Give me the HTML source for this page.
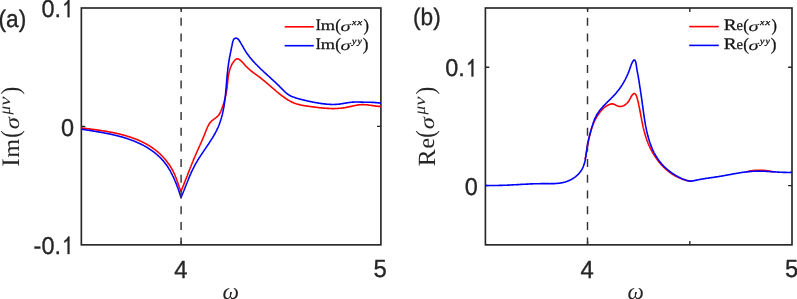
<!DOCTYPE html>
<html lang="en">
<head>
<meta charset="utf-8">
<title>Conductivity spectra</title>
<style>
html,body{margin:0;padding:0;background:#fff;}
body{width:797px;height:299px;overflow:hidden;font-family:"Liberation Sans",sans-serif;}
svg{will-change:transform;transform:translateZ(0);}
svg text{white-space:pre;text-rendering:geometricPrecision;}
</style>
</head>
<body>
<svg width="797" height="299" viewBox="0 0 797 299" style="display:block">
<rect width="797" height="299" fill="#fff"/>
<rect x="81.35" y="8.0" width="299.55" height="236.85" fill="#fff" stroke="#262626" stroke-width="1.65"/>
<path d="M181.20,244.85 v-3.9 M181.20,8.0 v3.9 M81.35,126.42 h3.9 M380.9,126.42 h-3.9" stroke="#262626" stroke-width="1.35" fill="none"/>
<clipPath id="ca"><rect x="81.35" y="8.0" width="299.55" height="236.85"/></clipPath>
<g clip-path="url(#ca)">
<path d="M81.7,128.0 L82.3,128.1 L82.9,128.1 L83.5,128.2 L84.1,128.3 L84.7,128.4 L85.3,128.4 L85.9,128.5 L86.5,128.6 L87.1,128.7 L87.7,128.7 L88.3,128.8 L88.9,128.9 L89.5,128.9 L90.1,129.0 L90.7,129.1 L91.3,129.2 L91.9,129.3 L92.5,129.3 L93.1,129.4 L93.7,129.5 L94.3,129.6 L94.9,129.6 L95.5,129.7 L96.1,129.8 L96.7,129.9 L97.3,130.0 L97.9,130.1 L98.4,130.1 L99.0,130.2 L99.6,130.3 L100.2,130.4 L100.8,130.5 L101.4,130.6 L102.0,130.7 L102.6,130.8 L103.2,130.9 L103.8,131.0 L104.4,131.0 L105.0,131.1 L105.6,131.2 L106.2,131.3 L106.8,131.4 L107.4,131.5 L108.0,131.7 L108.6,131.8 L109.2,131.9 L109.8,132.0 L110.3,132.1 L110.9,132.2 L111.5,132.3 L112.1,132.4 L112.7,132.5 L113.3,132.7 L113.9,132.8 L114.5,132.9 L115.1,133.0 L115.7,133.2 L116.3,133.3 L116.8,133.4 L117.4,133.6 L118.0,133.7 L118.6,133.8 L119.2,134.0 L119.8,134.1 L120.4,134.3 L121.0,134.4 L121.5,134.6 L122.1,134.7 L122.7,134.9 L123.3,135.0 L123.9,135.2 L124.4,135.3 L125.0,135.5 L125.6,135.7 L126.2,135.8 L126.8,136.0 L127.3,136.2 L127.9,136.4 L128.5,136.5 L129.1,136.7 L129.6,136.9 L130.2,137.1 L130.8,137.3 L131.4,137.5 L131.9,137.7 L132.5,137.9 L133.1,138.1 L133.6,138.3 L134.2,138.5 L134.8,138.7 L135.3,138.9 L135.9,139.1 L136.4,139.4 L137.0,139.6 L137.6,139.8 L138.1,140.1 L138.7,140.3 L139.2,140.5 L139.8,140.8 L140.3,141.0 L140.9,141.3 L141.4,141.5 L142.0,141.8 L142.5,142.0 L143.0,142.3 L143.6,142.6 L144.1,142.9 L144.7,143.1 L145.2,143.4 L145.7,143.7 L146.3,144.0 L146.8,144.3 L147.3,144.6 L147.8,144.9 L148.3,145.2 L148.9,145.5 L149.4,145.8 L149.9,146.1 L150.4,146.5 L150.9,146.8 L151.4,147.1 L151.9,147.5 L152.4,147.8 L152.9,148.2 L153.4,148.5 L153.9,148.9 L154.4,149.2 L154.8,149.6 L155.3,149.9 L155.8,150.3 L156.3,150.7 L156.7,151.1 L157.2,151.4 L157.7,151.8 L158.1,152.2 L158.6,152.6 L159.0,153.0 L159.5,153.4 L159.9,153.8 L160.4,154.3 L160.8,154.7 L161.2,155.1 L161.6,155.5 L162.1,156.0 L162.5,156.4 L162.9,156.8 L163.3,157.3 L163.7,157.7 L164.1,158.2 L164.5,158.6 L164.9,159.1 L165.3,159.5 L165.7,160.0 L166.1,160.5 L166.4,160.9 L166.8,161.4 L167.2,161.9 L167.5,162.4 L167.9,162.9 L168.3,163.3 L168.6,163.8 L169.0,164.3 L169.3,164.8 L169.6,165.3 L170.0,165.8 L170.3,166.3 L170.6,166.9 L170.9,167.4 L171.2,167.9 L171.5,168.4 L171.8,168.9 L172.1,169.4 L172.4,170.0 L172.7,170.5 L173.0,171.0 L173.3,171.6 L173.5,172.1 L173.8,172.7 L174.1,173.2 L174.3,173.7 L174.6,174.3 L174.8,174.8 L175.1,175.4 L175.3,176.0 L175.5,176.5 L175.7,177.1 L176.0,177.6 L176.2,178.2 L176.4,178.8 L176.6,179.3 L176.8,179.9 L177.0,180.5 L177.2,181.0 L177.4,181.6 L177.6,182.2 L177.8,182.7 L178.0,183.3 L178.2,183.9 L178.4,184.4 L178.6,185.0 L178.8,185.6 L179.0,186.2 L179.2,186.7 L179.4,187.3 L179.6,187.8 L179.9,188.4 L180.1,189.0 L180.3,189.5 L180.5,190.1 L180.8,190.6 L181.0,191.2 M181.0,191.2 L181.2,190.6 L181.5,190.1 L181.7,189.5 L181.9,189.0 L182.2,188.4 L182.4,187.9 L182.6,187.3 L182.8,186.8 L183.1,186.2 L183.3,185.6 L183.5,185.1 L183.7,184.5 L184.0,184.0 L184.2,183.4 L184.4,182.8 L184.6,182.3 L184.9,181.7 L185.1,181.2 L185.3,180.6 L185.5,180.0 L185.7,179.5 L186.0,178.9 L186.2,178.4 L186.4,177.8 L186.6,177.2 L186.8,176.7 L187.1,176.1 L187.3,175.6 L187.5,175.0 L187.7,174.4 L187.9,173.9 L188.1,173.3 L188.4,172.7 L188.6,172.2 L188.8,171.6 L189.0,171.1 L189.2,170.5 L189.5,169.9 L189.7,169.4 L189.9,168.8 L190.1,168.3 L190.3,167.7 L190.6,167.1 L190.8,166.6 L191.0,166.0 L191.2,165.5 L191.4,164.9 L191.7,164.3 L191.9,163.8 L192.1,163.2 L192.3,162.7 L192.6,162.1 L192.8,161.6 L193.0,161.0 L193.3,160.4 L193.5,159.9 L193.7,159.3 L193.9,158.8 L194.2,158.2 L194.4,157.7 L194.6,157.1 L194.9,156.6 L195.1,156.0 L195.4,155.4 L195.6,154.9 L195.8,154.3 L196.1,153.8 L196.3,153.2 L196.6,152.7 L196.8,152.1 L197.1,151.6 L197.3,151.0 L197.5,150.5 L197.8,149.9 L198.0,149.4 L198.3,148.8 L198.5,148.3 L198.8,147.7 L199.0,147.2 L199.3,146.6 L199.5,146.1 L199.8,145.5 L200.0,145.0 L200.2,144.4 L200.5,143.9 L200.7,143.3 L201.0,142.8 L201.2,142.2 L201.5,141.7 L201.7,141.1 L201.9,140.6 L202.2,140.0 L202.4,139.5 L202.7,138.9 L202.9,138.4 L203.1,137.8 L203.4,137.3 L203.6,136.7 L203.8,136.2 L204.1,135.6 L204.3,135.0 L204.5,134.5 L204.7,133.9 L205.0,133.4 L205.2,132.8 L205.4,132.2 L205.6,131.7 L205.8,131.1 L206.1,130.6 L206.3,130.0 L206.5,129.4 L206.7,128.9 L207.0,128.3 L207.2,127.8 L207.4,127.2 L207.7,126.7 L208.0,126.1 L208.2,125.6 L208.5,125.1 L208.8,124.6 L209.2,124.1 L209.5,123.5 L209.8,123.1 L210.2,122.6 L210.6,122.1 L211.0,121.7 L211.4,121.2 L211.8,120.8 L212.3,120.4 L212.8,120.0 L213.2,119.7 L213.7,119.3 L214.2,118.9 L214.7,118.6 L215.2,118.2 L215.7,117.9 L216.1,117.5 L216.6,117.1 L217.1,116.8 L217.5,116.4 L217.9,115.9 L218.4,115.5 L218.7,115.0 L219.1,114.5 L219.4,114.0 L219.7,113.5 L220.0,113.0 L220.3,112.4 L220.5,111.9 L220.8,111.3 L221.0,110.8 L221.2,110.2 L221.5,109.7 L221.7,109.1 L221.9,108.6 L222.1,108.0 L222.3,107.4 L222.5,106.9 L222.7,106.3 L222.9,105.7 L223.1,105.2 L223.3,104.6 L223.5,104.0 L223.7,103.4 L223.9,102.9 L224.0,102.3 L224.2,101.7 L224.4,101.1 L224.5,100.6 L224.7,100.0 L224.8,99.4 L225.0,98.8 L225.1,98.2 L225.3,97.6 L225.4,97.0 L225.5,96.5 L225.7,95.9 L225.8,95.3 L225.9,94.7 L226.0,94.1 L226.1,93.5 L226.2,92.9 L226.3,92.3 L226.4,91.7 L226.5,91.1 L226.6,90.5 L226.7,89.9 L226.8,89.4 L226.9,88.8 L227.0,88.2 L227.0,87.6 L227.1,87.0 L227.2,86.4 L227.2,85.8 L227.3,85.2 L227.4,84.6 L227.4,84.0 L227.5,83.4 L227.6,82.8 L227.6,82.2 L227.7,81.6 L227.7,81.0 L227.8,80.4 L227.9,79.8 L227.9,79.2 L228.0,78.6 L228.1,78.0 L228.2,77.4 L228.3,76.8 L228.3,76.2 L228.4,75.6 L228.5,75.0 L228.6,74.4 L228.8,73.8 L228.9,73.2 L229.0,72.6 L229.1,72.1 L229.3,71.5 L229.4,70.9 L229.6,70.3 L229.7,69.7 L229.9,69.2 L230.1,68.6 L230.3,68.0 L230.5,67.5 L230.7,66.9 L231.0,66.3 L231.2,65.8 L231.5,65.2 L231.8,64.7 L232.0,64.2 L232.3,63.7 L232.7,63.1 L233.0,62.6 L233.3,62.1 L233.7,61.7 L234.0,61.2 L234.4,60.7 L234.8,60.3 L235.2,59.8 L235.7,59.4 L236.2,59.1 L236.8,58.9 L237.4,58.8 L238.0,58.9 L238.5,59.1 L239.1,59.4 L239.6,59.7 L240.1,60.0 L240.5,60.4 L241.0,60.8 L241.4,61.2 L241.8,61.6 L242.3,62.1 L242.7,62.5 L243.1,63.0 L243.5,63.4 L243.9,63.9 L244.3,64.3 L244.7,64.8 L245.1,65.2 L245.5,65.7 L245.9,66.1 L246.3,66.5 L246.7,67.0 L247.2,67.4 L247.6,67.8 L248.0,68.2 L248.5,68.6 L248.9,69.0 L249.4,69.4 L249.8,69.8 L250.3,70.2 L250.7,70.6 L251.2,71.0 L251.7,71.3 L252.2,71.7 L252.6,72.1 L253.1,72.4 L253.6,72.8 L254.1,73.2 L254.6,73.5 L255.1,73.9 L255.5,74.2 L256.0,74.6 L256.5,74.9 L257.0,75.3 L257.5,75.6 L258.0,76.0 L258.5,76.4 L258.9,76.7 L259.4,77.1 L259.9,77.5 L260.4,77.8 L260.8,78.2 L261.3,78.6 L261.8,78.9 L262.3,79.3 L262.7,79.7 L263.2,80.1 L263.7,80.5 L264.1,80.8 L264.6,81.2 L265.1,81.6 L265.5,82.0 L266.0,82.4 L266.4,82.8 L266.9,83.2 L267.4,83.5 L267.8,83.9 L268.3,84.3 L268.7,84.7 L269.2,85.1 L269.6,85.5 L270.1,85.9 L270.6,86.3 L271.0,86.7 L271.5,87.1 L271.9,87.5 L272.4,87.9 L272.8,88.3 L273.3,88.6 L273.8,89.0 L274.2,89.4 L274.7,89.8 L275.1,90.2 L275.6,90.6 L276.0,91.0 L276.5,91.4 L277.0,91.8 L277.4,92.1 L277.9,92.5 L278.4,92.9 L278.8,93.3 L279.3,93.7 L279.8,94.0 L280.2,94.4 L280.7,94.8 L281.2,95.2 L281.7,95.5 L282.1,95.9 L282.6,96.2 L283.1,96.6 L283.6,97.0 L284.1,97.3 L284.6,97.7 L285.1,98.0 L285.6,98.3 L286.1,98.7 L286.6,99.0 L287.1,99.3 L287.6,99.7 L288.1,100.0 L288.6,100.3 L289.1,100.6 L289.7,100.9 L290.2,101.2 L290.7,101.5 L291.3,101.7 L291.8,102.0 L292.3,102.3 L292.9,102.5 L293.4,102.8 L294.0,103.0 L294.5,103.2 L295.1,103.4 L295.7,103.6 L296.2,103.8 L296.8,104.0 L297.4,104.2 L298.0,104.3 L298.6,104.5 L299.1,104.6 L299.7,104.8 L300.3,104.9 L300.9,105.1 L301.5,105.2 L302.1,105.3 L302.7,105.4 L303.3,105.5 L303.9,105.6 L304.5,105.7 L305.0,105.8 L305.6,105.9 L306.2,106.0 L306.8,106.1 L307.4,106.1 L308.0,106.2 L308.6,106.3 L309.2,106.4 L309.8,106.5 L310.4,106.5 L311.0,106.6 L311.6,106.7 L312.2,106.8 L312.8,106.9 L313.4,106.9 L314.0,107.0 L314.6,107.1 L315.2,107.2 L315.8,107.2 L316.4,107.3 L317.0,107.4 L317.6,107.5 L318.2,107.5 L318.8,107.6 L319.4,107.7 L320.0,107.7 L320.6,107.8 L321.2,107.9 L321.8,107.9 L322.4,108.0 L323.0,108.0 L323.6,108.1 L324.2,108.1 L324.8,108.2 L325.4,108.2 L326.0,108.3 L326.6,108.3 L327.2,108.4 L327.8,108.4 L328.4,108.4 L329.0,108.5 L329.6,108.5 L330.2,108.5 L330.8,108.5 L331.4,108.5 L332.0,108.6 L332.6,108.6 L333.2,108.6 L333.8,108.6 L334.4,108.6 L335.0,108.5 L335.6,108.5 L336.2,108.5 L336.8,108.5 L337.4,108.5 L338.0,108.4 L338.6,108.4 L339.2,108.3 L339.8,108.3 L340.4,108.2 L341.0,108.2 L341.6,108.1 L342.2,108.0 L342.8,108.0 L343.4,107.9 L344.0,107.8 L344.6,107.7 L345.2,107.6 L345.8,107.5 L346.4,107.4 L346.9,107.3 L347.5,107.1 L348.1,107.0 L348.7,106.9 L349.3,106.8 L349.9,106.6 L350.5,106.5 L351.1,106.4 L351.6,106.2 L352.2,106.1 L352.8,106.0 L353.4,105.8 L354.0,105.7 L354.6,105.6 L355.2,105.5 L355.8,105.4 L356.4,105.2 L357.0,105.1 L357.6,105.1 L358.2,105.0 L358.7,104.9 L359.3,104.8 L359.9,104.8 L360.5,104.7 L361.1,104.7 L361.7,104.6 L362.3,104.6 L363.0,104.6 L363.6,104.6 L364.2,104.7 L364.8,104.7 L365.4,104.7 L366.0,104.8 L366.6,104.8 L367.2,104.9 L367.8,104.9 L368.4,105.0 L368.9,105.1 L369.5,105.2 L370.1,105.3 L370.7,105.3 L371.3,105.4 L371.9,105.5 L372.5,105.6 L373.1,105.7 L373.7,105.8 L374.3,105.9 L374.9,105.9 L375.5,106.0 L376.1,106.1 L376.7,106.2 L377.3,106.2 L377.9,106.3 L378.5,106.4 L379.1,106.4 L379.7,106.4 L380.3,106.5 L380.9,106.5" fill="none" stroke="#ff0000" stroke-width="1.6" stroke-linejoin="round" stroke-linecap="round"/>
<path d="M81.7,129.2 L82.3,129.3 L82.9,129.4 L83.5,129.5 L84.1,129.6 L84.7,129.7 L85.3,129.8 L85.9,129.9 L86.5,130.0 L87.1,130.0 L87.7,130.1 L88.3,130.2 L88.9,130.3 L89.5,130.4 L90.0,130.5 L90.6,130.6 L91.2,130.7 L91.8,130.8 L92.4,130.9 L93.0,131.0 L93.6,131.1 L94.2,131.2 L94.8,131.3 L95.4,131.4 L96.0,131.5 L96.6,131.6 L97.2,131.7 L97.8,131.8 L98.4,131.9 L99.0,132.0 L99.6,132.1 L100.2,132.2 L100.8,132.3 L101.4,132.4 L102.0,132.5 L102.5,132.6 L103.1,132.7 L103.7,132.8 L104.3,132.9 L104.9,133.1 L105.5,133.2 L106.1,133.3 L106.7,133.4 L107.3,133.5 L107.9,133.6 L108.5,133.8 L109.1,133.9 L109.7,134.0 L110.2,134.1 L110.8,134.3 L111.4,134.4 L112.0,134.5 L112.6,134.6 L113.2,134.8 L113.8,134.9 L114.4,135.1 L115.0,135.2 L115.5,135.3 L116.1,135.5 L116.7,135.6 L117.3,135.8 L117.9,135.9 L118.5,136.1 L119.1,136.2 L119.6,136.4 L120.2,136.5 L120.8,136.7 L121.4,136.8 L122.0,137.0 L122.6,137.2 L123.1,137.3 L123.7,137.5 L124.3,137.7 L124.9,137.9 L125.4,138.0 L126.0,138.2 L126.6,138.4 L127.2,138.6 L127.7,138.8 L128.3,139.0 L128.9,139.2 L129.5,139.4 L130.0,139.6 L130.6,139.8 L131.2,140.0 L131.7,140.2 L132.3,140.4 L132.9,140.6 L133.4,140.8 L134.0,141.1 L134.5,141.3 L135.1,141.5 L135.7,141.7 L136.2,142.0 L136.8,142.2 L137.3,142.5 L137.9,142.7 L138.4,142.9 L139.0,143.2 L139.5,143.5 L140.1,143.7 L140.6,144.0 L141.2,144.2 L141.7,144.5 L142.2,144.8 L142.8,145.1 L143.3,145.3 L143.8,145.6 L144.4,145.9 L144.9,146.2 L145.4,146.5 L145.9,146.8 L146.5,147.1 L147.0,147.4 L147.5,147.7 L148.0,148.0 L148.5,148.4 L149.0,148.7 L149.5,149.0 L150.0,149.4 L150.5,149.7 L151.0,150.0 L151.5,150.4 L152.0,150.7 L152.5,151.1 L153.0,151.4 L153.5,151.8 L154.0,152.2 L154.4,152.5 L154.9,152.9 L155.4,153.3 L155.9,153.7 L156.3,154.1 L156.8,154.4 L157.2,154.8 L157.7,155.2 L158.1,155.6 L158.6,156.1 L159.0,156.5 L159.5,156.9 L159.9,157.3 L160.3,157.7 L160.7,158.2 L161.2,158.6 L161.6,159.0 L162.0,159.5 L162.4,159.9 L162.8,160.4 L163.2,160.8 L163.6,161.3 L164.0,161.8 L164.3,162.2 L164.7,162.7 L165.1,163.2 L165.4,163.7 L165.8,164.1 L166.2,164.6 L166.5,165.1 L166.9,165.6 L167.2,166.1 L167.5,166.6 L167.9,167.1 L168.2,167.6 L168.5,168.1 L168.8,168.6 L169.2,169.2 L169.5,169.7 L169.8,170.2 L170.1,170.7 L170.4,171.2 L170.7,171.8 L171.0,172.3 L171.2,172.8 L171.5,173.4 L171.8,173.9 L172.1,174.4 L172.4,175.0 L172.6,175.5 L172.9,176.1 L173.2,176.6 L173.4,177.2 L173.7,177.7 L173.9,178.3 L174.2,178.8 L174.4,179.4 L174.7,179.9 L174.9,180.5 L175.1,181.0 L175.4,181.6 L175.6,182.1 L175.8,182.7 L176.0,183.2 L176.3,183.8 L176.5,184.4 L176.7,184.9 L176.9,185.5 L177.1,186.1 L177.3,186.6 L177.6,187.2 L177.8,187.8 L178.0,188.3 L178.2,188.9 L178.4,189.5 L178.6,190.0 L178.8,190.6 L179.0,191.2 L179.1,191.8 L179.3,192.3 L179.5,192.9 L179.7,193.5 L179.9,194.0 L180.1,194.6 L180.3,195.2 L180.5,195.8 L180.6,196.3 L180.8,196.9 L181.0,197.5 M181.0,197.5 L181.2,196.9 L181.5,196.4 L181.7,195.8 L181.9,195.3 L182.2,194.7 L182.4,194.2 L182.6,193.6 L182.9,193.1 L183.1,192.5 L183.3,192.0 L183.5,191.4 L183.8,190.8 L184.0,190.3 L184.2,189.7 L184.4,189.2 L184.7,188.6 L184.9,188.0 L185.1,187.5 L185.3,186.9 L185.5,186.4 L185.8,185.8 L186.0,185.2 L186.2,184.7 L186.4,184.1 L186.6,183.6 L186.9,183.0 L187.1,182.5 L187.3,181.9 L187.5,181.3 L187.8,180.8 L188.0,180.2 L188.2,179.7 L188.4,179.1 L188.7,178.6 L188.9,178.0 L189.1,177.4 L189.4,176.9 L189.6,176.3 L189.8,175.8 L190.1,175.2 L190.3,174.7 L190.6,174.1 L190.8,173.6 L191.0,173.0 L191.3,172.5 L191.5,171.9 L191.8,171.4 L192.0,170.8 L192.3,170.3 L192.6,169.8 L192.8,169.2 L193.1,168.7 L193.4,168.1 L193.6,167.6 L193.9,167.1 L194.2,166.5 L194.5,166.0 L194.7,165.5 L195.0,164.9 L195.3,164.4 L195.6,163.9 L195.9,163.4 L196.2,162.8 L196.5,162.3 L196.8,161.8 L197.1,161.3 L197.4,160.8 L197.7,160.2 L198.0,159.7 L198.4,159.2 L198.7,158.7 L199.0,158.2 L199.3,157.7 L199.6,157.2 L200.0,156.7 L200.3,156.2 L200.6,155.7 L200.9,155.2 L201.3,154.7 L201.6,154.2 L201.9,153.7 L202.3,153.2 L202.6,152.7 L203.0,152.2 L203.3,151.7 L203.6,151.2 L204.0,150.7 L204.3,150.2 L204.6,149.7 L205.0,149.2 L205.3,148.7 L205.7,148.2 L206.0,147.7 L206.3,147.2 L206.7,146.7 L207.0,146.2 L207.3,145.7 L207.7,145.2 L208.0,144.7 L208.4,144.2 L208.7,143.7 L209.0,143.2 L209.4,142.7 L209.7,142.2 L210.0,141.7 L210.3,141.2 L210.7,140.7 L211.0,140.2 L211.3,139.7 L211.6,139.2 L211.9,138.7 L212.3,138.1 L212.6,137.6 L212.9,137.1 L213.2,136.6 L213.5,136.1 L213.8,135.6 L214.1,135.0 L214.4,134.5 L214.7,134.0 L215.0,133.5 L215.3,132.9 L215.6,132.4 L215.8,131.9 L216.1,131.4 L216.4,130.8 L216.7,130.3 L216.9,129.7 L217.2,129.2 L217.4,128.7 L217.7,128.1 L217.9,127.6 L218.2,127.0 L218.4,126.5 L218.6,125.9 L218.9,125.3 L219.1,124.8 L219.3,124.2 L219.5,123.7 L219.7,123.1 L219.9,122.5 L220.1,122.0 L220.3,121.4 L220.5,120.8 L220.7,120.2 L220.9,119.7 L221.0,119.1 L221.2,118.5 L221.4,117.9 L221.5,117.4 L221.7,116.8 L221.9,116.2 L222.0,115.6 L222.2,115.0 L222.3,114.5 L222.4,113.9 L222.6,113.3 L222.7,112.7 L222.8,112.1 L223.0,111.5 L223.1,110.9 L223.2,110.3 L223.3,109.8 L223.4,109.2 L223.5,108.6 L223.7,108.0 L223.8,107.4 L223.9,106.8 L224.0,106.2 L224.1,105.6 L224.2,105.0 L224.2,104.4 L224.3,103.8 L224.4,103.2 L224.5,102.6 L224.6,102.0 L224.7,101.4 L224.7,100.8 L224.8,100.3 L224.9,99.7 L225.0,99.1 L225.0,98.5 L225.1,97.9 L225.2,97.3 L225.2,96.7 L225.3,96.1 L225.4,95.5 L225.4,94.9 L225.5,94.3 L225.6,93.7 L225.6,93.1 L225.7,92.5 L225.7,91.9 L225.8,91.3 L225.8,90.7 L225.9,90.1 L226.0,89.5 L226.0,88.9 L226.1,88.3 L226.1,87.7 L226.2,87.1 L226.2,86.5 L226.3,85.9 L226.3,85.3 L226.4,84.7 L226.4,84.1 L226.5,83.5 L226.5,82.9 L226.6,82.3 L226.6,81.7 L226.7,81.1 L226.7,80.5 L226.8,79.9 L226.8,79.3 L226.9,78.7 L226.9,78.1 L227.0,77.5 L227.0,76.9 L227.1,76.3 L227.1,75.7 L227.2,75.1 L227.2,74.5 L227.3,73.9 L227.4,73.3 L227.4,72.7 L227.5,72.1 L227.6,71.5 L227.6,70.9 L227.7,70.3 L227.8,69.7 L227.8,69.1 L227.9,68.5 L228.0,67.9 L228.0,67.3 L228.1,66.7 L228.2,66.1 L228.3,65.6 L228.4,65.0 L228.5,64.4 L228.5,63.8 L228.6,63.2 L228.7,62.6 L228.8,62.0 L228.9,61.4 L229.0,60.8 L229.1,60.2 L229.2,59.6 L229.3,59.0 L229.4,58.4 L229.5,57.8 L229.6,57.2 L229.7,56.7 L229.9,56.1 L230.0,55.5 L230.1,54.9 L230.2,54.3 L230.3,53.7 L230.4,53.1 L230.5,52.5 L230.7,51.9 L230.8,51.3 L230.9,50.8 L231.0,50.2 L231.1,49.6 L231.2,49.0 L231.4,48.4 L231.5,47.8 L231.6,47.2 L231.7,46.6 L231.9,46.0 L232.0,45.5 L232.1,44.9 L232.2,44.3 L232.3,43.7 L232.5,43.1 L232.6,42.5 L232.7,41.9 L232.9,41.3 L233.1,40.8 L233.3,40.2 L233.6,39.7 L233.9,39.2 L234.3,38.7 L234.8,38.4 L235.4,38.2 L235.9,38.1 L236.5,38.2 L237.1,38.4 L237.6,38.7 L238.1,39.1 L238.5,39.5 L238.9,40.0 L239.2,40.5 L239.5,41.0 L239.9,41.5 L240.2,42.0 L240.5,42.5 L240.8,43.1 L241.1,43.6 L241.4,44.1 L241.7,44.6 L242.0,45.2 L242.3,45.7 L242.6,46.2 L242.9,46.7 L243.2,47.2 L243.5,47.8 L243.8,48.3 L244.1,48.8 L244.4,49.3 L244.7,49.8 L245.0,50.3 L245.3,50.9 L245.6,51.4 L246.0,51.9 L246.3,52.4 L246.6,52.9 L247.0,53.4 L247.3,53.9 L247.7,54.3 L248.0,54.8 L248.4,55.3 L248.7,55.8 L249.1,56.3 L249.5,56.8 L249.8,57.2 L250.2,57.7 L250.6,58.2 L251.0,58.6 L251.4,59.1 L251.8,59.5 L252.1,60.0 L252.5,60.4 L252.9,60.9 L253.3,61.3 L253.7,61.8 L254.2,62.2 L254.6,62.7 L255.0,63.1 L255.4,63.5 L255.8,64.0 L256.2,64.4 L256.6,64.8 L257.1,65.3 L257.5,65.7 L257.9,66.1 L258.3,66.6 L258.8,67.0 L259.2,67.4 L259.6,67.8 L260.1,68.2 L260.5,68.7 L260.9,69.1 L261.4,69.5 L261.8,69.9 L262.2,70.3 L262.7,70.7 L263.1,71.1 L263.5,71.5 L264.0,72.0 L264.4,72.4 L264.9,72.8 L265.3,73.2 L265.8,73.6 L266.2,74.0 L266.6,74.4 L267.1,74.8 L267.5,75.2 L268.0,75.6 L268.4,76.0 L268.9,76.4 L269.3,76.8 L269.7,77.2 L270.2,77.6 L270.6,78.0 L271.1,78.5 L271.5,78.9 L272.0,79.3 L272.4,79.7 L272.9,80.1 L273.3,80.5 L273.7,80.9 L274.2,81.3 L274.6,81.7 L275.1,82.1 L275.5,82.5 L275.9,82.9 L276.4,83.4 L276.8,83.8 L277.2,84.2 L277.7,84.6 L278.1,85.0 L278.5,85.4 L279.0,85.9 L279.4,86.3 L279.8,86.7 L280.2,87.1 L280.7,87.6 L281.1,88.0 L281.5,88.4 L281.9,88.9 L282.4,89.3 L282.8,89.7 L283.2,90.1 L283.6,90.6 L284.1,91.0 L284.5,91.4 L284.9,91.8 L285.4,92.2 L285.8,92.6 L286.3,93.0 L286.7,93.4 L287.2,93.8 L287.7,94.1 L288.2,94.5 L288.7,94.8 L289.2,95.1 L289.7,95.5 L290.2,95.7 L290.8,96.0 L291.3,96.3 L291.8,96.5 L292.4,96.7 L293.0,96.9 L293.5,97.1 L294.1,97.3 L294.7,97.5 L295.3,97.7 L295.8,97.9 L296.4,98.1 L297.0,98.2 L297.6,98.4 L298.1,98.6 L298.7,98.7 L299.3,98.9 L299.9,99.1 L300.4,99.2 L301.0,99.4 L301.6,99.5 L302.2,99.7 L302.8,99.8 L303.4,100.0 L303.9,100.1 L304.5,100.3 L305.1,100.4 L305.7,100.5 L306.3,100.7 L306.9,100.8 L307.5,101.0 L308.0,101.1 L308.6,101.2 L309.2,101.3 L309.8,101.5 L310.4,101.6 L311.0,101.7 L311.6,101.8 L312.2,101.9 L312.7,102.1 L313.3,102.2 L313.9,102.3 L314.5,102.4 L315.1,102.5 L315.7,102.6 L316.3,102.7 L316.9,102.8 L317.5,102.9 L318.1,103.0 L318.7,103.1 L319.3,103.2 L319.9,103.3 L320.5,103.4 L321.0,103.5 L321.6,103.6 L322.2,103.6 L322.8,103.7 L323.4,103.8 L324.0,103.9 L324.6,103.9 L325.2,104.0 L325.8,104.1 L326.4,104.1 L327.0,104.2 L327.6,104.3 L328.2,104.3 L328.8,104.3 L329.4,104.4 L330.0,104.4 L330.6,104.4 L331.2,104.5 L331.8,104.5 L332.4,104.5 L333.0,104.5 L333.6,104.5 L334.2,104.5 L334.8,104.5 L335.4,104.4 L336.0,104.4 L336.6,104.4 L337.2,104.3 L337.8,104.3 L338.4,104.2 L339.0,104.1 L339.6,104.1 L340.2,104.0 L340.8,103.9 L341.4,103.8 L342.0,103.7 L342.6,103.6 L343.2,103.5 L343.8,103.4 L344.4,103.3 L345.0,103.2 L345.5,103.1 L346.1,103.0 L346.7,102.9 L347.3,102.8 L347.9,102.7 L348.5,102.6 L349.1,102.5 L349.7,102.5 L350.3,102.4 L350.9,102.3 L351.5,102.2 L352.1,102.2 L352.7,102.1 L353.3,102.1 L353.9,102.1 L354.5,102.0 L355.1,102.0 L355.7,102.0 L356.3,102.0 L356.9,102.0 L357.5,102.0 L358.1,102.0 L358.7,102.0 L359.3,102.0 L359.9,102.1 L360.5,102.1 L361.1,102.1 L361.7,102.1 L362.3,102.1 L362.9,102.1 L363.5,102.2 L364.1,102.2 L364.7,102.2 L365.3,102.2 L365.9,102.2 L366.5,102.2 L367.1,102.2 L367.7,102.2 L368.3,102.2 L368.9,102.3 L369.5,102.3 L370.1,102.3 L370.7,102.3 L371.3,102.3 L371.9,102.4 L372.5,102.4 L373.1,102.4 L373.7,102.4 L374.3,102.5 L374.9,102.5 L375.5,102.6 L376.1,102.6 L376.7,102.7 L377.3,102.7 L377.9,102.8 L378.5,102.9 L379.1,102.9 L379.7,103.0 L380.3,103.1 L380.9,103.2" fill="none" stroke="#0000ff" stroke-width="1.6" stroke-linejoin="round" stroke-linecap="round"/>
<line x1="181.1" y1="8.0" x2="181.1" y2="244.85" stroke="#333333" stroke-width="1.45" stroke-dasharray="8.0 7.7" stroke-dashoffset="5.90"/>
</g>
<g transform="translate(74.00,17.20) scale(0.962,1)" fill="#262626" stroke="#262626" stroke-width="0.34" stroke-linejoin="round"><text x="-33.92" y="0" font-family="Liberation Sans, sans-serif" font-size="24.4">0.</text><polygon points="-4.73,0.00 -6.64,0.00 -6.64,-13.66 -8.32,-12.27 -10.03,-11.42 -10.03,-13.30 -7.83,-14.88 -5.95,-17.47 -4.73,-17.47"/></g>
<g transform="translate(74.00,135.62) scale(0.962,1)" fill="#262626" stroke="#262626" stroke-width="0.34" stroke-linejoin="round"><text x="-13.57" y="0" font-family="Liberation Sans, sans-serif" font-size="24.4">0</text></g>
<g transform="translate(74.00,254.05) scale(0.962,1)" fill="#262626" stroke="#262626" stroke-width="0.34" stroke-linejoin="round"><text x="-42.04" y="0" font-family="Liberation Sans, sans-serif" font-size="24.4">-0.</text><polygon points="-4.73,0.00 -6.64,0.00 -6.64,-13.66 -8.32,-12.27 -10.03,-11.42 -10.03,-13.30 -7.83,-14.88 -5.95,-17.47 -4.73,-17.47"/></g>
<g transform="translate(180.80,277.50) scale(0.962,1)" fill="#262626" stroke="#262626" stroke-width="0.34" stroke-linejoin="round"><text x="-6.89" y="0" font-family="Liberation Sans, sans-serif" font-size="24.8">4</text></g>
<g transform="translate(380.20,277.40) scale(0.962,1)" fill="#262626" stroke="#262626" stroke-width="0.34" stroke-linejoin="round"><text x="-6.89" y="0" font-family="Liberation Sans, sans-serif" font-size="24.8">5</text></g>
<g transform="translate(-1.50,26.80) scale(0.94,1)" fill="#262626" stroke="#262626" stroke-width="0.34" stroke-linejoin="round"><text x="0.00" y="0" font-family="Liberation Sans, sans-serif" font-size="24.1">(a)</text></g>
<text transform="matrix(0.9722 0 0 0.9722 222.542 299.067)" font-family="Liberation Serif, serif" font-size="24" font-style="italic" fill="#262626">ω</text>
<g transform="rotate(-90)">
<text transform="matrix(1.0476 0 0 1.0496 -166.780 19.200)" font-family="Liberation Serif, serif" font-size="24" fill="#262626">I</text>
<text transform="matrix(1.0101 0 0 0.9663 -157.785 19.200)" font-family="Liberation Serif, serif" font-size="24" fill="#262626">m</text>
<text transform="matrix(0.9314 0 0 1.0973 -137.706 19.304)" font-family="Liberation Serif, serif" font-size="24" fill="#262626">(</text>
<text transform="matrix(1.0185 0 0 0.8768 -129.333 19.090)" font-family="Liberation Serif, serif" font-size="24" font-style="italic" fill="#262626">σ</text>
<text transform="matrix(0.9940 0 0 0.9586 -114.500 9.996)" font-family="Liberation Serif, serif" font-size="17" font-style="italic" fill="#262626">μ</text>
<text transform="matrix(1.2175 0 0 0.9387 -105.710 10.040)" font-family="Liberation Serif, serif" font-size="17" font-style="italic" fill="#262626">ν</text>
<text transform="matrix(0.9709 0 0 1.0973 -94.557 19.304)" font-family="Liberation Serif, serif" font-size="24" fill="#262626">)</text>
</g>
<path d="M284.7,26.8 H313.8" stroke="#ff0000" stroke-width="1.6"/>
<path d="M284.7,45.7 H313.8" stroke="#0000ff" stroke-width="1.6"/>
<text transform="matrix(0.9768 0 0 1.0276 315.867 30.400)" font-family="Liberation Serif, serif" font-size="15.6" fill="#141414" stroke="#141414" stroke-width="0.28">I</text>
<text transform="matrix(1.1741 0 0 0.9274 320.634 30.400)" font-family="Liberation Serif, serif" font-size="15.6" fill="#141414" stroke="#141414" stroke-width="0.28">m</text>
<text transform="matrix(1.0809 0 0 1.1161 335.141 30.800)" font-family="Liberation Serif, serif" font-size="15.6" fill="#141414" stroke="#141414" stroke-width="0.28">(</text>
<text transform="matrix(1.3209 0 0 0.9114 340.382 30.558)" font-family="Liberation Serif, serif" font-size="15.6" font-style="italic" fill="#141414" stroke="#141414" stroke-width="0.1">σ</text>
<text transform="matrix(0.9091 0 0 0.7708 352.025 24.500)" font-family="Liberation Serif, serif" font-size="11" font-style="italic" fill="#141414" stroke="#141414" stroke-width="0.35">x</text>
<text transform="matrix(1.0303 0 0 0.7708 357.142 24.500)" font-family="Liberation Serif, serif" font-size="11" font-style="italic" fill="#141414" stroke="#141414" stroke-width="0.35">x</text>
<text transform="matrix(1.0456 0 0 1.1161 363.570 30.800)" font-family="Liberation Serif, serif" font-size="15.6" fill="#141414" stroke="#141414" stroke-width="0.28">)</text>
<text transform="matrix(0.9768 0 0 1.0276 315.867 49.400)" font-family="Liberation Serif, serif" font-size="15.6" fill="#141414" stroke="#141414" stroke-width="0.28">I</text>
<text transform="matrix(1.1741 0 0 0.9274 320.634 49.400)" font-family="Liberation Serif, serif" font-size="15.6" fill="#141414" stroke="#141414" stroke-width="0.28">m</text>
<text transform="matrix(1.0809 0 0 1.1161 335.141 49.800)" font-family="Liberation Serif, serif" font-size="15.6" fill="#141414" stroke="#141414" stroke-width="0.28">(</text>
<text transform="matrix(1.3209 0 0 0.9114 340.382 49.558)" font-family="Liberation Serif, serif" font-size="15.6" font-style="italic" fill="#141414" stroke="#141414" stroke-width="0.1">σ</text>
<text transform="matrix(0.8962 0 0 0.8215 352.013 43.757)" font-family="Liberation Serif, serif" font-size="11" font-style="italic" fill="#141414" stroke="#141414" stroke-width="0.35">y</text>
<text transform="matrix(0.8962 0 0 0.8215 357.413 43.757)" font-family="Liberation Serif, serif" font-size="11" font-style="italic" fill="#141414" stroke="#141414" stroke-width="0.35">y</text>
<text transform="matrix(1.0953 0 0 1.1161 362.645 49.800)" font-family="Liberation Serif, serif" font-size="15.6" fill="#141414" stroke="#141414" stroke-width="0.28">)</text>
<rect x="485.4" y="8.0" width="306.60" height="236.85" fill="#fff" stroke="#262626" stroke-width="1.65"/>
<path d="M587.60,244.85 v-3.9 M587.60,8.0 v3.9 M689.80,244.85 v-3.9 M689.80,8.0 v3.9 M485.4,185.64 h3.9 M792.0,185.64 h-3.9 M485.4,67.21 h3.9 M792.0,67.21 h-3.9" stroke="#262626" stroke-width="1.35" fill="none"/>
<clipPath id="cb"><rect x="485.4" y="8.0" width="306.60" height="236.85"/></clipPath>
<g clip-path="url(#cb)">
<path d="M585.2,158.6 L585.3,158.0 L585.4,157.4 L585.6,156.8 L585.7,156.2 L585.8,155.6 L585.9,155.0 L586.0,154.5 L586.1,153.9 L586.2,153.3 L586.3,152.7 L586.4,152.1 L586.5,151.5 L586.6,150.9 L586.8,150.3 L586.9,149.7 L587.0,149.1 L587.1,148.5 L587.2,147.9 L587.3,147.3 L587.4,146.7 L587.5,146.1 L587.6,145.5 L587.7,145.0 L587.8,144.4 L587.9,143.8 L588.0,143.2 L588.2,142.6 L588.3,142.0 L588.4,141.4 L588.5,140.8 L588.6,140.2 L588.8,139.6 L588.9,139.0 L589.0,138.4 L589.1,137.9 L589.3,137.3 L589.4,136.7 L589.5,136.1 L589.7,135.5 L589.8,134.9 L590.0,134.3 L590.1,133.7 L590.3,133.2 L590.4,132.6 L590.6,132.0 L590.7,131.4 L590.9,130.8 L591.1,130.3 L591.2,129.7 L591.4,129.1 L591.6,128.5 L591.8,128.0 L592.0,127.4 L592.2,126.8 L592.4,126.2 L592.6,125.7 L592.8,125.1 L593.0,124.5 L593.2,124.0 L593.5,123.4 L593.7,122.9 L593.9,122.3 L594.2,121.8 L594.4,121.2 L594.7,120.7 L595.0,120.1 L595.2,119.6 L595.5,119.1 L595.8,118.5 L596.1,118.0 L596.4,117.5 L596.7,116.9 L597.0,116.4 L597.3,115.9 L597.6,115.4 L598.0,114.9 L598.3,114.4 L598.6,113.9 L599.0,113.4 L599.4,112.9 L599.7,112.5 L600.1,112.0 L600.5,111.5 L600.9,111.0 L601.3,110.6 L601.7,110.1 L602.1,109.7 L602.5,109.3 L602.9,108.8 L603.4,108.4 L603.8,108.0 L604.3,107.6 L604.7,107.2 L605.2,106.9 L605.7,106.5 L606.2,106.2 L606.7,105.9 L607.2,105.5 L607.7,105.2 L608.3,105.0 L608.8,104.7 L609.4,104.5 L609.9,104.3 L610.5,104.1 L611.1,104.0 L611.7,103.9 L612.3,103.9 L612.9,104.0 L613.5,104.1 L614.1,104.3 L614.6,104.6 L615.2,104.8 L615.7,105.1 L616.3,105.4 L616.8,105.6 L617.4,105.9 L617.9,106.1 L618.5,106.3 L619.1,106.4 L619.7,106.5 L620.3,106.5 L620.9,106.5 L621.5,106.4 L622.1,106.3 L622.7,106.1 L623.2,105.9 L623.8,105.6 L624.3,105.3 L624.8,105.0 L625.3,104.7 L625.8,104.3 L626.2,103.9 L626.7,103.5 L627.1,103.1 L627.5,102.7 L627.9,102.2 L628.3,101.7 L628.6,101.2 L629.0,100.7 L629.3,100.2 L629.6,99.7 L629.8,99.1 L630.1,98.6 L630.4,98.1 L630.7,97.5 L631.0,97.0 L631.3,96.5 L631.6,96.0 L631.9,95.5 L632.3,95.0 L632.7,94.5 L633.1,94.1 L633.6,93.7 L634.1,93.5 L634.7,93.5 L635.2,93.9 L635.6,94.3 L635.9,94.8 L636.2,95.4 L636.4,95.9 L636.7,96.5 L636.9,97.1 L637.1,97.6 L637.2,98.2 L637.4,98.8 L637.5,99.4 L637.7,100.0 L637.8,100.5 L638.0,101.1 L638.1,101.7 L638.2,102.3 L638.4,102.9 L638.5,103.5 L638.6,104.1 L638.7,104.7 L638.9,105.3 L639.0,105.9 L639.1,106.4 L639.2,107.0 L639.3,107.6 L639.5,108.2 L639.6,108.8 L639.7,109.4 L639.8,110.0 L639.9,110.6 L640.0,111.2 L640.1,111.8 L640.3,112.4 L640.4,113.0 L640.5,113.6 L640.6,114.1 L640.7,114.7 L640.8,115.3 L640.9,115.9 L641.0,116.5 L641.2,117.1 L641.3,117.7 L641.4,118.3 L641.5,118.9 L641.6,119.5 L641.7,120.1 L641.8,120.7 L642.0,121.3 L642.1,121.8 L642.2,122.4 L642.3,123.0 L642.4,123.6 L642.6,124.2 L642.7,124.8 L642.8,125.4 L642.9,126.0 L643.1,126.6 L643.2,127.2 L643.3,127.7 L643.5,128.3 L643.6,128.9 L643.8,129.5 L643.9,130.1 L644.0,130.7 L644.2,131.3 L644.4,131.8 L644.5,132.4 L644.7,133.0 L644.8,133.6 L645.0,134.2 L645.2,134.8 L645.3,135.3 L645.5,135.9 L645.7,136.5 L645.9,137.1 L646.1,137.6 L646.2,138.2 L646.4,138.8 L646.6,139.3 L646.8,139.9 L647.0,140.5 L647.2,141.1 L647.5,141.6 L647.7,142.2 L647.9,142.7 L648.1,143.3 L648.4,143.9 L648.6,144.4 L648.8,145.0 L649.1,145.5 L649.3,146.1 L649.6,146.6 L649.8,147.2 L650.1,147.7 L650.3,148.3 L650.6,148.8 L650.9,149.3 L651.2,149.9 L651.4,150.4 L651.7,150.9 L652.0,151.5 L652.3,152.0 L652.6,152.5 L652.9,153.0 L653.2,153.6 L653.5,154.1 L653.8,154.6 L654.1,155.1 L654.5,155.6 L654.8,156.1 L655.1,156.6 L655.5,157.1 L655.8,157.6 L656.1,158.1 L656.5,158.6 L656.8,159.1 L657.2,159.6 L657.5,160.1 L657.9,160.6 L658.3,161.1 L658.6,161.5 L659.0,162.0 L659.4,162.5 L659.8,162.9 L660.2,163.4 L660.6,163.8 L661.0,164.3 L661.4,164.8 L661.8,165.2 L662.2,165.6 L662.6,166.1 L663.0,166.5 L663.5,166.9 L663.9,167.4 L664.3,167.8 L664.8,168.2 L665.2,168.6 L665.6,169.0 L666.1,169.4 L666.5,169.8 L667.0,170.2 L667.5,170.6 L667.9,171.0 L668.4,171.3 L668.9,171.7 L669.4,172.1 L669.9,172.4 L670.3,172.8 L670.8,173.1 L671.3,173.5 L671.8,173.8 L672.3,174.2 L672.8,174.5 L673.4,174.8 L673.9,175.1 L674.4,175.4 L674.9,175.7 L675.4,176.0 L676.0,176.3 L676.5,176.6 L677.0,176.8 L677.6,177.1 L678.1,177.4 L678.7,177.6 L679.2,177.9 L679.8,178.1 L680.3,178.3 L680.9,178.6 L681.5,178.8 L682.0,179.0 L682.6,179.2 L683.2,179.4 L683.8,179.6 L684.3,179.7 L684.9,179.9 L685.5,180.1 L686.1,180.2 L686.7,180.4 L687.2,180.5 L687.8,180.6 L688.4,180.8 L689.0,180.9 L689.6,181.0 L690.2,181.1 M746.5,171.8 L747.1,171.7 L747.7,171.5 L748.3,171.4 L748.9,171.3 L749.5,171.1 L750.1,171.0 L750.7,170.9 L751.4,170.8 L752.0,170.7 L752.6,170.6 L753.2,170.6 L753.8,170.5 L754.4,170.4 L755.0,170.4 L755.7,170.3 L756.3,170.3 L756.9,170.3 L757.5,170.3 L758.1,170.2 L758.8,170.2 L759.4,170.2 L760.0,170.2 L760.6,170.2 L761.2,170.3 L761.9,170.3 L762.5,170.3 L763.1,170.3 L763.7,170.4 L764.3,170.4 L764.9,170.5 L765.6,170.5 L766.2,170.6 L766.8,170.7 L767.4,170.8 L768.0,170.9 L768.6,171.0 L769.2,171.0 L769.9,171.2 L770.5,171.3 L771.1,171.4 L771.7,171.5 L772.3,171.6 L772.9,171.8 L773.5,171.9" fill="none" stroke="#ff0000" stroke-width="1.6" stroke-linejoin="round" stroke-linecap="round"/>
<path d="M485.4,185.4 L486.0,185.4 L486.6,185.4 L487.2,185.5 L487.8,185.5 L488.4,185.5 L489.0,185.5 L489.6,185.5 L490.2,185.5 L490.8,185.5 L491.4,185.5 L492.0,185.5 L492.6,185.5 L493.2,185.5 L493.8,185.5 L494.4,185.5 L495.0,185.5 L495.6,185.5 L496.2,185.5 L496.8,185.5 L497.4,185.5 L498.0,185.5 L498.6,185.5 L499.2,185.4 L499.8,185.4 L500.4,185.4 L501.0,185.4 L501.6,185.4 L502.2,185.4 L502.8,185.3 L503.4,185.3 L504.0,185.3 L504.6,185.3 L505.2,185.2 L505.8,185.2 L506.4,185.2 L507.0,185.2 L507.6,185.1 L508.2,185.1 L508.8,185.1 L509.4,185.1 L510.0,185.0 L510.6,185.0 L511.2,185.0 L511.8,184.9 L512.4,184.9 L513.0,184.9 L513.6,184.8 L514.2,184.8 L514.8,184.8 L515.4,184.7 L516.0,184.7 L516.6,184.7 L517.2,184.6 L517.8,184.6 L518.4,184.6 L519.0,184.5 L519.6,184.5 L520.2,184.5 L520.8,184.4 L521.4,184.4 L522.0,184.4 L522.6,184.3 L523.2,184.3 L523.8,184.3 L524.4,184.2 L525.0,184.2 L525.6,184.2 L526.2,184.1 L526.8,184.1 L527.4,184.1 L528.0,184.1 L528.6,184.0 L529.2,184.0 L529.8,184.0 L530.4,183.9 L531.0,183.9 L531.6,183.9 L532.2,183.9 L532.8,183.9 L533.4,183.8 L534.0,183.8 L534.7,183.8 L535.3,183.8 L535.9,183.8 L536.5,183.7 L537.1,183.7 L537.7,183.7 L538.3,183.7 L538.9,183.7 L539.5,183.7 L540.1,183.7 L540.7,183.6 L541.3,183.6 L541.9,183.6 L542.5,183.6 L543.1,183.6 L543.7,183.6 L544.3,183.6 L544.9,183.6 L545.5,183.6 L546.1,183.6 L546.7,183.6 L547.3,183.6 L547.9,183.6 L548.5,183.6 L549.1,183.7 L549.7,183.7 L550.3,183.6 L550.9,183.6 L551.5,183.6 L552.1,183.6 L552.7,183.6 L553.3,183.6 L553.9,183.6 L554.5,183.6 L555.1,183.5 L555.7,183.5 L556.3,183.5 L556.9,183.4 L557.5,183.4 L558.1,183.3 L558.7,183.3 L559.3,183.2 L559.9,183.1 L560.5,183.0 L561.1,182.9 L561.7,182.8 L562.2,182.7 L562.8,182.6 L563.4,182.5 L564.0,182.3 L564.6,182.2 L565.2,182.0 L565.7,181.8 L566.3,181.6 L566.9,181.4 L567.4,181.2 L568.0,181.0 L568.6,180.8 L569.1,180.5 L569.7,180.3 L570.2,180.0 L570.7,179.8 L571.3,179.5 L571.8,179.2 L572.3,178.9 L572.8,178.6 L573.3,178.3 L573.8,177.9 L574.3,177.6 L574.8,177.2 L575.3,176.9 L575.8,176.5 L576.2,176.1 L576.7,175.7 L577.1,175.3 L577.6,174.9 L578.0,174.5 L578.4,174.1 L578.8,173.6 L579.2,173.2 L579.6,172.7 L580.0,172.3 L580.4,171.8 L580.7,171.3 L581.1,170.8 L581.4,170.3 L581.7,169.8 L582.0,169.3 L582.3,168.7 L582.6,168.2 L582.8,167.6 L583.1,167.1 L583.3,166.5 L583.5,166.0 L583.7,165.4 L583.9,164.9 L584.1,164.3 L584.3,163.7 L584.5,163.1 L584.6,162.6 L584.8,162.0 L584.9,161.4 L585.1,160.8 L585.2,160.2 L585.3,159.6 L585.4,159.0 L585.5,158.4 L585.6,157.9 L585.7,157.3 L585.8,156.7 L585.9,156.1 L586.0,155.5 L586.1,154.9 L586.2,154.3 L586.3,153.7 L586.3,153.1 L586.4,152.5 L586.5,151.9 L586.6,151.3 L586.7,150.7 L586.7,150.1 L586.8,149.5 L586.9,148.9 L587.0,148.3 L587.1,147.7 L587.1,147.1 L587.2,146.5 L587.3,146.0 L587.4,145.4 L587.5,144.8 L587.6,144.2 L587.7,143.6 L587.8,143.0 L587.9,142.4 L588.1,141.8 L588.2,141.2 L588.3,140.6 L588.4,140.0 L588.6,139.5 L588.7,138.9 L588.8,138.3 L589.0,137.7 L589.1,137.1 L589.3,136.5 L589.4,136.0 L589.6,135.4 L589.7,134.8 L589.9,134.2 L590.1,133.6 L590.2,133.1 L590.4,132.5 L590.5,131.9 L590.7,131.3 L590.9,130.7 L591.0,130.2 L591.2,129.6 L591.4,129.0 L591.5,128.4 L591.7,127.9 L591.9,127.3 L592.0,126.7 L592.2,126.1 L592.4,125.6 L592.6,125.0 L592.8,124.4 L592.9,123.8 L593.1,123.3 L593.3,122.7 L593.5,122.1 L593.7,121.6 L593.9,121.0 L594.2,120.4 L594.4,119.9 L594.6,119.3 L594.8,118.8 L595.1,118.2 L595.3,117.7 L595.6,117.1 L595.9,116.6 L596.1,116.1 L596.4,115.5 L596.7,115.0 L597.0,114.5 L597.3,114.0 L597.6,113.5 L598.0,112.9 L598.3,112.4 L598.6,112.0 L599.0,111.5 L599.3,111.0 L599.7,110.5 L600.1,110.0 L600.5,109.6 L600.8,109.1 L601.2,108.6 L601.6,108.2 L602.0,107.7 L602.4,107.3 L602.8,106.8 L603.2,106.4 L603.6,105.9 L604.0,105.5 L604.4,105.1 L604.9,104.6 L605.3,104.2 L605.7,103.8 L606.1,103.3 L606.5,102.9 L607.0,102.5 L607.4,102.1 L607.8,101.6 L608.3,101.2 L608.7,100.8 L609.1,100.4 L609.5,100.0 L610.0,99.5 L610.4,99.1 L610.8,98.7 L611.2,98.3 L611.7,97.8 L612.1,97.4 L612.5,97.0 L612.9,96.6 L613.3,96.1 L613.8,95.7 L614.2,95.2 L614.6,94.8 L615.0,94.4 L615.4,93.9 L615.8,93.5 L616.2,93.0 L616.6,92.5 L616.9,92.1 L617.3,91.6 L617.7,91.1 L618.1,90.7 L618.4,90.2 L618.8,89.7 L619.2,89.2 L619.5,88.8 L619.9,88.3 L620.2,87.8 L620.6,87.3 L620.9,86.8 L621.2,86.3 L621.6,85.8 L621.9,85.3 L622.2,84.8 L622.5,84.3 L622.8,83.7 L623.2,83.2 L623.5,82.7 L623.8,82.2 L624.1,81.7 L624.3,81.1 L624.6,80.6 L624.9,80.1 L625.2,79.6 L625.5,79.0 L625.7,78.5 L626.0,77.9 L626.3,77.4 L626.5,76.9 L626.8,76.3 L627.0,75.8 L627.3,75.2 L627.5,74.7 L627.8,74.1 L628.0,73.6 L628.2,73.0 L628.5,72.5 L628.7,71.9 L628.9,71.3 L629.1,70.8 L629.3,70.2 L629.5,69.6 L629.7,69.1 L629.9,68.5 L630.1,67.9 L630.3,67.4 L630.5,66.8 L630.7,66.2 L630.9,65.7 L631.1,65.1 L631.3,64.5 L631.5,64.0 L631.8,63.4 L632.0,62.9 L632.3,62.3 L632.6,61.8 L632.9,61.3 L633.3,60.8 L633.6,60.3 L634.1,60.0 L634.6,60.0 L635.0,60.4 L635.3,61.0 L635.5,61.5 L635.7,62.1 L635.9,62.7 L636.0,63.3 L636.1,63.9 L636.2,64.5 L636.3,65.1 L636.4,65.7 L636.5,66.3 L636.5,66.8 L636.6,67.4 L636.7,68.0 L636.8,68.6 L636.9,69.2 L637.0,69.8 L637.1,70.4 L637.2,71.0 L637.3,71.6 L637.4,72.2 L637.5,72.8 L637.7,73.4 L637.8,74.0 L637.9,74.5 L638.0,75.1 L638.1,75.7 L638.2,76.3 L638.3,76.9 L638.4,77.5 L638.5,78.1 L638.6,78.7 L638.7,79.3 L638.8,79.9 L638.9,80.5 L639.0,81.1 L639.1,81.7 L639.2,82.3 L639.3,82.8 L639.4,83.4 L639.4,84.0 L639.5,84.6 L639.6,85.2 L639.7,85.8 L639.8,86.4 L639.9,87.0 L640.0,87.6 L640.1,88.2 L640.2,88.8 L640.3,89.4 L640.4,90.0 L640.5,90.6 L640.5,91.2 L640.6,91.8 L640.7,92.4 L640.8,92.9 L640.9,93.5 L641.0,94.1 L641.1,94.7 L641.2,95.3 L641.2,95.9 L641.3,96.5 L641.4,97.1 L641.5,97.7 L641.6,98.3 L641.7,98.9 L641.7,99.5 L641.8,100.1 L641.9,100.7 L642.0,101.3 L642.1,101.9 L642.2,102.5 L642.2,103.1 L642.3,103.7 L642.4,104.3 L642.5,104.9 L642.6,105.4 L642.7,106.0 L642.7,106.6 L642.8,107.2 L642.9,107.8 L643.0,108.4 L643.1,109.0 L643.1,109.6 L643.2,110.2 L643.3,110.8 L643.4,111.4 L643.5,112.0 L643.6,112.6 L643.6,113.2 L643.7,113.8 L643.8,114.4 L643.9,115.0 L644.0,115.6 L644.1,116.2 L644.2,116.8 L644.2,117.4 L644.3,117.9 L644.4,118.5 L644.5,119.1 L644.6,119.7 L644.7,120.3 L644.8,120.9 L644.9,121.5 L645.0,122.1 L645.1,122.7 L645.2,123.3 L645.3,123.9 L645.4,124.5 L645.5,125.1 L645.6,125.7 L645.7,126.2 L645.9,126.8 L646.0,127.4 L646.1,128.0 L646.2,128.6 L646.3,129.2 L646.4,129.8 L646.6,130.4 L646.7,131.0 L646.8,131.5 L647.0,132.1 L647.1,132.7 L647.2,133.3 L647.4,133.9 L647.5,134.5 L647.7,135.1 L647.8,135.6 L648.0,136.2 L648.1,136.8 L648.3,137.4 L648.5,138.0 L648.6,138.5 L648.8,139.1 L649.0,139.7 L649.1,140.3 L649.3,140.8 L649.5,141.4 L649.7,142.0 L649.9,142.5 L650.1,143.1 L650.3,143.7 L650.5,144.2 L650.7,144.8 L650.9,145.4 L651.1,145.9 L651.3,146.5 L651.6,147.1 L651.8,147.6 L652.0,148.2 L652.2,148.7 L652.5,149.3 L652.7,149.8 L653.0,150.4 L653.2,150.9 L653.5,151.4 L653.8,152.0 L654.0,152.5 L654.3,153.1 L654.6,153.6 L654.9,154.1 L655.2,154.6 L655.5,155.2 L655.8,155.7 L656.1,156.2 L656.4,156.7 L656.7,157.2 L657.0,157.7 L657.4,158.2 L657.7,158.7 L658.0,159.2 L658.4,159.7 L658.7,160.2 L659.1,160.7 L659.5,161.2 L659.8,161.7 L660.2,162.1 L660.6,162.6 L661.0,163.1 L661.3,163.5 L661.7,164.0 L662.1,164.4 L662.5,164.9 L663.0,165.3 L663.4,165.7 L663.8,166.2 L664.2,166.6 L664.6,167.0 L665.1,167.4 L665.5,167.8 L666.0,168.2 L666.4,168.6 L666.9,169.0 L667.3,169.4 L667.8,169.8 L668.2,170.2 L668.7,170.6 L669.2,171.0 L669.7,171.3 L670.1,171.7 L670.6,172.0 L671.1,172.4 L671.6,172.7 L672.1,173.1 L672.6,173.4 L673.1,173.8 L673.6,174.1 L674.1,174.4 L674.6,174.7 L675.1,175.0 L675.6,175.4 L676.1,175.7 L676.7,176.0 L677.2,176.3 L677.7,176.5 L678.2,176.8 L678.8,177.1 L679.3,177.4 L679.9,177.6 L680.4,177.9 L680.9,178.2 L681.5,178.4 L682.0,178.7 L682.6,178.9 L683.1,179.1 L683.7,179.4 L684.3,179.6 L684.8,179.8 L685.4,180.0 L685.9,180.2 L686.5,180.4 L687.1,180.6 L687.7,180.7 L688.3,180.8 L688.9,180.9 L689.4,181.0 L690.0,181.1 L690.6,181.1 L691.3,181.1 L691.8,181.0 L692.4,180.9 L693.0,180.9 L693.6,180.8 L694.2,180.6 L694.8,180.5 L695.4,180.4 L696.0,180.3 L696.6,180.1 L697.2,180.0 L697.8,179.9 L698.3,179.8 L698.9,179.7 L699.5,179.5 L700.1,179.4 L700.7,179.3 L701.3,179.2 L701.9,179.1 L702.5,179.0 L703.1,178.9 L703.7,178.8 L704.3,178.7 L704.8,178.6 L705.4,178.5 L706.0,178.4 L706.6,178.3 L707.2,178.2 L707.8,178.2 L708.4,178.1 L709.0,178.0 L709.6,177.9 L710.2,177.8 L710.8,177.7 L711.4,177.6 L712.0,177.6 L712.6,177.5 L713.2,177.4 L713.8,177.3 L714.4,177.2 L715.0,177.1 L715.6,177.0 L716.1,176.9 L716.7,176.9 L717.3,176.8 L717.9,176.7 L718.5,176.6 L719.1,176.5 L719.7,176.4 L720.3,176.3 L720.9,176.2 L721.5,176.1 L722.1,176.0 L722.7,175.9 L723.3,175.8 L723.9,175.7 L724.4,175.6 L725.0,175.4 L725.6,175.3 L726.2,175.2 L726.8,175.1 L727.4,175.0 L728.0,174.9 L728.6,174.8 L729.2,174.7 L729.8,174.6 L730.4,174.5 L731.0,174.4 L731.5,174.2 L732.1,174.1 L732.7,174.0 L733.3,173.9 L733.9,173.8 L734.5,173.7 L735.1,173.6 L735.7,173.5 L736.3,173.4 L736.9,173.3 L737.5,173.2 L738.1,173.1 L738.6,173.0 L739.2,172.9 L739.8,172.8 L740.4,172.7 L741.0,172.6 L741.6,172.5 L742.2,172.4 L742.8,172.3 L743.4,172.3 L744.0,172.2 L744.6,172.1 L745.2,172.0 L745.8,172.0 L746.4,171.9 L747.0,171.8 L747.6,171.7 L748.2,171.7 L748.8,171.6 L749.4,171.6 L750.0,171.5 L750.6,171.5 L751.2,171.4 L751.8,171.4 L752.4,171.3 L753.0,171.3 L753.6,171.3 L754.2,171.2 L754.8,171.2 L755.4,171.2 L756.0,171.2 L756.6,171.2 L757.2,171.2 L757.8,171.1 L758.4,171.1 L759.0,171.1 L759.6,171.1 L760.2,171.2 L760.8,171.2 L761.4,171.2 L762.0,171.2 L762.6,171.2 L763.2,171.2 L763.8,171.3 L764.4,171.3 L765.0,171.3 L765.6,171.3 L766.2,171.4 L766.8,171.4 L767.4,171.4 L768.0,171.5 L768.6,171.5 L769.2,171.5 L769.8,171.6 L770.4,171.6 L771.0,171.6 L771.6,171.7 L772.2,171.7 L772.8,171.8 L773.4,171.8 L774.0,171.8 L774.6,171.9 L775.2,171.9 L775.8,172.0 L776.4,172.0 L777.0,172.0 L777.6,172.1 L778.2,172.1 L778.8,172.1 L779.4,172.2 L780.0,172.2 L780.6,172.2 L781.2,172.3 L781.8,172.3 L782.4,172.3 L783.0,172.4 L783.6,172.4 L784.2,172.4 L784.8,172.4 L785.4,172.4 L786.0,172.4 L786.6,172.5 L787.2,172.5 L787.8,172.5 L788.4,172.5 L789.0,172.5 L789.6,172.5 L790.2,172.4 L790.8,172.4 L791.4,172.4 L792.0,172.4" fill="none" stroke="#0000ff" stroke-width="1.6" stroke-linejoin="round" stroke-linecap="round"/>
<line x1="587.5" y1="8.0" x2="587.5" y2="244.85" stroke="#333333" stroke-width="1.45" stroke-dasharray="8.0 7.7" stroke-dashoffset="5.90"/>
</g>
<g transform="translate(477.90,76.41) scale(0.962,1)" fill="#262626" stroke="#262626" stroke-width="0.34" stroke-linejoin="round"><text x="-33.92" y="0" font-family="Liberation Sans, sans-serif" font-size="24.4">0.</text><polygon points="-4.73,0.00 -6.64,0.00 -6.64,-13.66 -8.32,-12.27 -10.03,-11.42 -10.03,-13.30 -7.83,-14.88 -5.95,-17.47 -4.73,-17.47"/></g>
<g transform="translate(477.90,194.64) scale(0.962,1)" fill="#262626" stroke="#262626" stroke-width="0.34" stroke-linejoin="round"><text x="-13.57" y="0" font-family="Liberation Sans, sans-serif" font-size="24.4">0</text></g>
<g transform="translate(587.00,277.50) scale(0.962,1)" fill="#262626" stroke="#262626" stroke-width="0.34" stroke-linejoin="round"><text x="-6.89" y="0" font-family="Liberation Sans, sans-serif" font-size="24.8">4</text></g>
<g transform="translate(791.70,277.40) scale(0.962,1)" fill="#262626" stroke="#262626" stroke-width="0.34" stroke-linejoin="round"><text x="-6.89" y="0" font-family="Liberation Sans, sans-serif" font-size="24.8">5</text></g>
<g transform="translate(413.00,24.80) scale(0.94,1)" fill="#262626" stroke="#262626" stroke-width="0.34" stroke-linejoin="round"><text x="0.00" y="0" font-family="Liberation Sans, sans-serif" font-size="24.1">(b)</text></g>
<text transform="matrix(0.9656 0 0 0.9722 627.547 299.067)" font-family="Liberation Serif, serif" font-size="24" font-style="italic" fill="#262626">ω</text>
<g transform="rotate(-90)">
<text transform="matrix(1.0827 0 0 1.0305 -166.380 434.500)" font-family="Liberation Serif, serif" font-size="24" fill="#262626">R</text>
<text transform="matrix(0.9910 0 0 0.9635 -148.551 434.369)" font-family="Liberation Serif, serif" font-size="24" fill="#262626">e</text>
<text transform="matrix(0.9314 0 0 1.0973 -137.706 434.404)" font-family="Liberation Serif, serif" font-size="24" fill="#262626">(</text>
<text transform="matrix(1.0185 0 0 0.8768 -129.333 434.190)" font-family="Liberation Serif, serif" font-size="24" font-style="italic" fill="#262626">σ</text>
<text transform="matrix(0.9940 0 0 0.9586 -114.500 425.096)" font-family="Liberation Serif, serif" font-size="17" font-style="italic" fill="#262626">μ</text>
<text transform="matrix(1.2175 0 0 0.9387 -105.710 425.140)" font-family="Liberation Serif, serif" font-size="17" font-style="italic" fill="#262626">ν</text>
<text transform="matrix(0.9709 0 0 1.0973 -94.557 434.404)" font-family="Liberation Serif, serif" font-size="24" fill="#262626">)</text>
</g>
<path d="M689.2,26.6 H718.8" stroke="#ff0000" stroke-width="1.6"/>
<path d="M689.2,45.4 H718.8" stroke="#0000ff" stroke-width="1.6"/>
<text transform="matrix(1.2316 0 0 1.0276 723.824 30.400)" font-family="Liberation Serif, serif" font-size="15.6" fill="#141414" stroke="#141414" stroke-width="0.28">R</text>
<text transform="matrix(0.9356 0 0 0.9348 736.616 30.454)" font-family="Liberation Serif, serif" font-size="15.6" fill="#141414" stroke="#141414" stroke-width="0.28">e</text>
<text transform="matrix(1.0809 0 0 1.1161 743.141 30.800)" font-family="Liberation Serif, serif" font-size="15.6" fill="#141414" stroke="#141414" stroke-width="0.28">(</text>
<text transform="matrix(1.3209 0 0 0.9114 748.382 30.558)" font-family="Liberation Serif, serif" font-size="15.6" font-style="italic" fill="#141414" stroke="#141414" stroke-width="0.1">σ</text>
<text transform="matrix(0.9091 0 0 0.7708 760.025 24.500)" font-family="Liberation Serif, serif" font-size="11" font-style="italic" fill="#141414" stroke="#141414" stroke-width="0.35">x</text>
<text transform="matrix(1.0303 0 0 0.7708 765.142 24.500)" font-family="Liberation Serif, serif" font-size="11" font-style="italic" fill="#141414" stroke="#141414" stroke-width="0.35">x</text>
<text transform="matrix(1.0456 0 0 1.1161 771.570 30.800)" font-family="Liberation Serif, serif" font-size="15.6" fill="#141414" stroke="#141414" stroke-width="0.28">)</text>
<text transform="matrix(1.2316 0 0 1.0276 723.824 49.400)" font-family="Liberation Serif, serif" font-size="15.6" fill="#141414" stroke="#141414" stroke-width="0.28">R</text>
<text transform="matrix(0.9356 0 0 0.9348 736.616 49.454)" font-family="Liberation Serif, serif" font-size="15.6" fill="#141414" stroke="#141414" stroke-width="0.28">e</text>
<text transform="matrix(1.0809 0 0 1.1161 743.141 49.800)" font-family="Liberation Serif, serif" font-size="15.6" fill="#141414" stroke="#141414" stroke-width="0.28">(</text>
<text transform="matrix(1.3209 0 0 0.9114 748.382 49.558)" font-family="Liberation Serif, serif" font-size="15.6" font-style="italic" fill="#141414" stroke="#141414" stroke-width="0.1">σ</text>
<text transform="matrix(0.8962 0 0 0.8215 760.013 43.757)" font-family="Liberation Serif, serif" font-size="11" font-style="italic" fill="#141414" stroke="#141414" stroke-width="0.35">y</text>
<text transform="matrix(0.8962 0 0 0.8215 765.413 43.757)" font-family="Liberation Serif, serif" font-size="11" font-style="italic" fill="#141414" stroke="#141414" stroke-width="0.35">y</text>
<text transform="matrix(1.0953 0 0 1.1161 770.645 49.800)" font-family="Liberation Serif, serif" font-size="15.6" fill="#141414" stroke="#141414" stroke-width="0.28">)</text>
</svg>
</body>
</html>
